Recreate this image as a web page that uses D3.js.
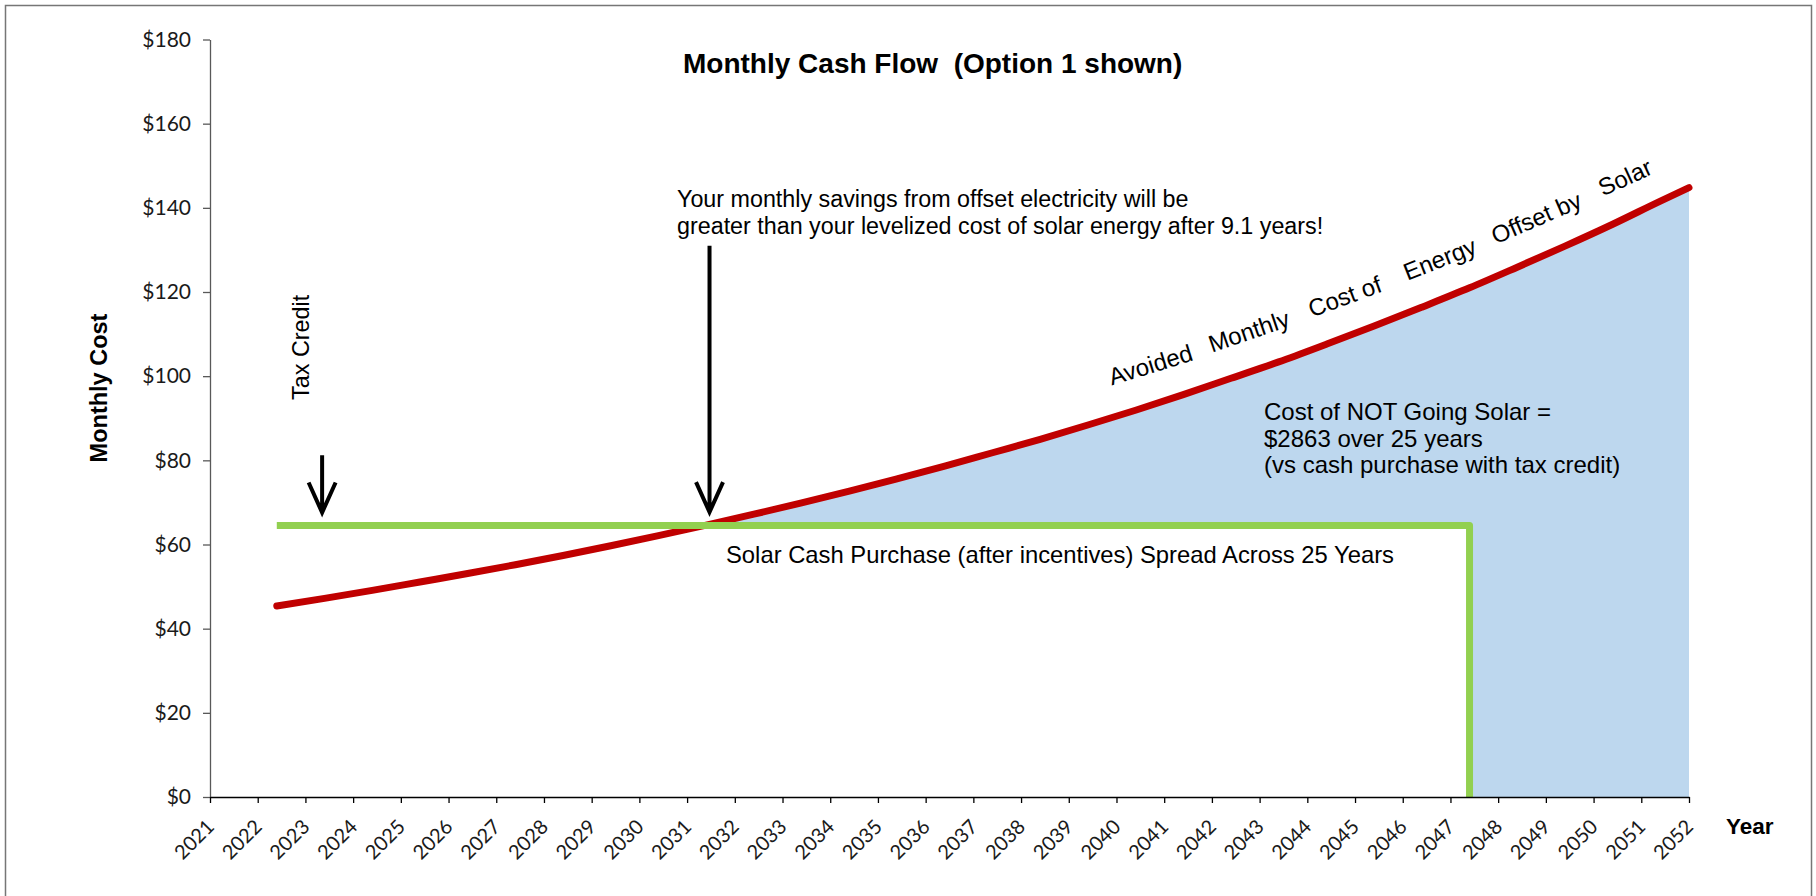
<!DOCTYPE html>
<html>
<head>
<meta charset="utf-8">
<script src="https://cdn.jsdelivr.net/npm/d3@7"></script>
<style>
    body { margin: 0; background: #fff; }
    svg text { font-family: "Liberation Sans", Arial, sans-serif; fill: #000; }
</style>
</head>
<body>
<div id="main"></div>
<script>

// avoided monthly cost of energy offset by solar (red line)
const years = [2022.4, 2023.4, 2024.4, 2025.4, 2026.4, 2027.4, 2028.4, 2029.4, 2030.4, 2031.4,
               2032.4, 2033.4, 2034.4, 2035.4, 2036.4, 2037.4, 2038.4, 2039.4, 2040.4, 2041.4,
               2042.4, 2043.4, 2044.4, 2045.4, 2046.4, 2047.4, 2048.4, 2049.4, 2050.4, 2051.4, 2052];
const avoidedCost = [45.4, 47.2, 49.1, 51.1, 53.1, 55.2, 57.4, 59.7, 62.1, 64.6,
                     67.2, 69.9, 72.7, 75.6, 78.6, 81.8, 85.0, 88.4, 91.9, 95.6,
                     99.5, 103.4, 107.6, 111.9, 116.4, 121.0, 125.9, 130.9, 136.1, 141.6, 144.8];

// solar cash purchase spread across 25 years (green line)
const purchaseYears = [2022.4, 2047.4, 2047.4];
const purchaseCost = [64.5, 64.5, 0];

// axis ticks
const yTicks = [0, 20, 40, 60, 80, 100, 120, 140, 160, 180];
const xTicks = d3.range(2021, 2053);

// arrows: year, value at tail, value at tip
const arrows = [
    {year: 2023.35, from: 81.2, to: 67.6},
    {year: 2031.47, from: 131.0, to: 67.7}
];

// words written along the red line, with the year where each starts
const curveWords = ["Avoided", "Monthly", "Cost of", "Energy", "Offset by", "Solar"];
const curveWordYears = [2039.9, 2042.0, 2044.1, 2046.1, 2047.95, 2050.2];

const w = 1816;
const h = 896;

const xScale = d3.scaleLinear().domain([2021, 2052]).range([210, 1689]);
const yScale = d3.scaleLinear().domain([0, 180]).range([797, 39.5]);

const svg = d3.select("#main").append("svg").attr("width", w).attr("height", h);

// outer frame
svg.append("rect")
    .attr("x", 5.5).attr("y", 5.5)
    .attr("width", 1806).attr("height", h + 20)
    .attr("fill", "none")
    .attr("stroke", "#767676")
    .attr("stroke-width", 1.5);

const redData = years.map((d, i) => ({year: d, v: avoidedCost[i]}));
const greenData = purchaseYears.map((d, i) => ({year: d, v: purchaseCost[i]}));

// blue fill under the red line
const area = d3.area()
    .x(d => xScale(d.year))
    .y0(yScale(0))
    .y1(d => yScale(d.v))
    .curve(d3.curveMonotoneX);

svg.append("path")
    .datum(redData)
    .attr("d", area)
    .attr("fill", "#BDD7EE");

// blank out what is below the green line (a little wider to hide the fill edge)
svg.append("rect")
    .attr("x", xScale(purchaseYears[0]) - 3)
    .attr("y", yScale(purchaseCost[0]))
    .attr("width", xScale(purchaseYears[1]) - xScale(purchaseYears[0]) + 3)
    .attr("height", yScale(0) - yScale(purchaseCost[0]))
    .attr("fill", "#fff");

// axes
const yAxis = d3.axisLeft(yScale)
    .tickValues(yTicks)
    .tickFormat(d => "$" + d)
    .tickSize(7)
    .tickSizeOuter(0)
    .tickPadding(12);

const gy = svg.append("g")
    .attr("id", "y-axis")
    .attr("transform", "translate(" + xScale(2021) + ",0)")
    .call(yAxis);
gy.select(".domain").attr("stroke", "#595959").attr("stroke-width", 1.3);
gy.selectAll(".tick line").attr("stroke", "#595959").attr("stroke-width", 1.3);
gy.selectAll(".tick text")
    .style("font-family", "Lato, 'Open Sans', sans-serif")
    .style("font-size", "21px")
    .style("fill", "#1a1a1a");

const xAxis = d3.axisBottom(xScale)
    .tickValues(xTicks)
    .tickFormat(d3.format("d"))
    .tickSize(6)
    .tickSizeOuter(0);

// red line
const line = d3.line()
    .x(d => xScale(d.year))
    .y(d => yScale(d.v))
    .curve(d3.curveMonotoneX);

svg.append("path")
    .datum(redData)
    .attr("d", line)
    .attr("fill", "none")
    .attr("stroke", "#C00000")
    .attr("stroke-width", 7)
    .attr("stroke-linecap", "round");

// green line
svg.append("path")
    .datum(greenData)
    .attr("d", d3.line().x(d => xScale(d.year)).y(d => yScale(d.v)))
    .attr("fill", "none")
    .attr("stroke", "#92D050")
    .attr("stroke-width", 7)
    .attr("stroke-linejoin", "round");

const gx = svg.append("g")
    .attr("id", "x-axis")
    .attr("transform", "translate(0," + yScale(0) + ")")
    .call(xAxis);
gx.select(".domain").attr("stroke", "#000").attr("stroke-width", 1.5);
gx.selectAll(".tick line").attr("stroke", "#000").attr("stroke-width", 1.3);
gx.selectAll(".tick text")
    .attr("y", 0)
    .attr("dy", 0)
    .attr("text-anchor", "end")
    .attr("transform", "translate(5,31) rotate(-45)")
    .style("font-family", "Lato, 'Open Sans', sans-serif")
    .style("font-size", "20px")
    .style("fill", "#1a1a1a");

// arrows
svg.selectAll(".arrow")
    .data(arrows)
    .enter()
    .append("path")
    .attr("class", "arrow")
    .attr("d", function (d) {
        const ax = xScale(d.year), y0 = yScale(d.from), y1 = yScale(d.to);
        return "M" + ax + "," + y0 + "L" + ax + "," + y1 +
            "M" + (ax - 13.5) + "," + (y1 - 30) + "L" + ax + "," + y1 + "L" + (ax + 13.5) + "," + (y1 - 30);
    })
    .attr("fill", "none")
    .attr("stroke", "#000")
    .attr("stroke-width", 4);

// titles
svg.append("text")
    .attr("x", 683).attr("y", 73)
    .style("font-size", "28px")
    .style("font-weight", "bold")
    .text("Monthly Cash Flow\u00a0\u00a0(Option 1 shown)");

svg.append("text")
    .attr("transform", "translate(107,388) rotate(-90)")
    .attr("text-anchor", "middle")
    .style("font-size", "23.5px")
    .style("font-weight", "bold")
    .text("Monthly Cost");

svg.append("text")
    .attr("x", 1726).attr("y", 834)
    .style("font-size", "22.5px")
    .style("font-weight", "bold")
    .text("Year");

// annotations
svg.append("text")
    .attr("transform", "translate(309,400) rotate(-90)")
    .style("font-size", "23.4px")
    .text("Tax Credit");

const note = svg.append("text").style("font-size", "23.3px");
note.append("tspan").attr("x", 677).attr("y", 206.5)
    .text("Your monthly savings from offset electricity will be");
note.append("tspan").attr("x", 677).attr("y", 234)
    .text("greater than your levelized cost of solar energy after 9.1 years!");

svg.append("text")
    .attr("x", 726).attr("y", 563)
    .style("font-size", "23.8px")
    .text("Solar Cash Purchase (after incentives) Spread Across 25 Years");

const notSolar = svg.append("text").style("font-size", "24px");
["Cost of NOT Going Solar =", "$2863 over 25 years", "(vs cash purchase with tax credit)"]
    .forEach(function (t, i) {
        notSolar.append("tspan").attr("x", 1264).attr("y", 420 + i * 26.5).text(t);
    });

// words along the red line
function valueAt(yr) {
    const i = Math.min(d3.bisectRight(years, yr) - 1, years.length - 2);
    const t = (yr - years[i]) / (years[i + 1] - years[i]);
    return {i: i, v: avoidedCost[i] + t * (avoidedCost[i + 1] - avoidedCost[i])};
}

svg.selectAll(".curve-word")
    .data(curveWords)
    .enter()
    .append("text")
    .attr("class", "curve-word")
    .attr("transform", function (d, k) {
        const yr = curveWordYears[k];
        const p = valueAt(yr);
        const dx = xScale(years[p.i + 1]) - xScale(years[p.i]);
        const dy = yScale(avoidedCost[p.i + 1]) - yScale(avoidedCost[p.i]);
        const angle = Math.atan2(dy, dx) * 180 / Math.PI;
        return "translate(" + xScale(yr) + "," + (yScale(p.v) - 32) + ") rotate(" + angle + ")";
    })
    .style("font-size", "24px")
    .text(d => d);

</script>
</body>
</html>
